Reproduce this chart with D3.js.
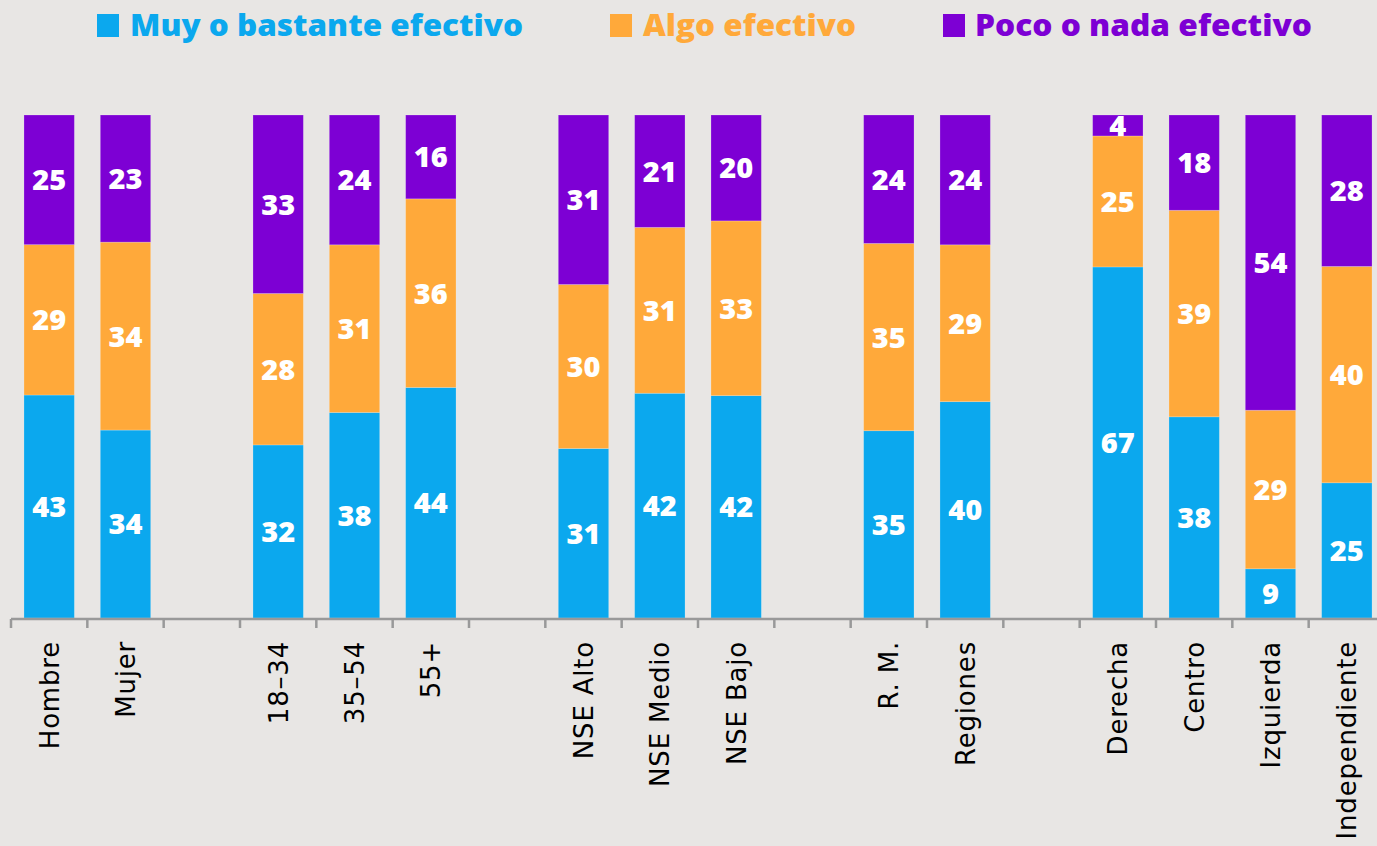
<!DOCTYPE html>
<html><head><meta charset="utf-8">
<script src="https://cdn.jsdelivr.net/npm/d3@7/dist/d3.min.js"></script>
<style>
html,body{margin:0;padding:0;background:#E8E6E4;overflow:hidden;}
svg{display:block;}
</style></head>
<body>
<svg id="c" width="1377" height="846"></svg>
<script>
const categories = ["Hombre","Mujer","","18–34","35–54","55+","","NSE Alto","NSE Medio","NSE Bajo","","R. M.","Regiones","","Derecha","Centro","Izquierda","Independiente"];
const muy   = [43,34,null,32,38,44,null,31,42,42,null,35,40,null,67,38,9,25];
const algo  = [29,34,null,28,31,36,null,30,31,33,null,35,29,null,25,39,29,40];
const poco  = [25,23,null,33,24,16,null,31,21,20,null,24,24,null,4,18,54,28];
const seriesNames = ["Muy o bastante efectivo","Algo efectivo","Poco o nada efectivo"];
const colors = ["#0BA8EE","#FFA93A","#7D00D4"];

(function(){
const svg = d3.select("#c");
const plotTop = 115, base = 618;
const idx = categories.map((d,i)=>i);
const x = d3.scaleBand().domain(idx).range([11,1385]).paddingInner(0.34).paddingOuter(0.17);
const y = d3.scaleLinear().domain([0,100]).range([base, plotTop]);

const rows = idx.filter(i=>muy[i]!=null).map(i=>({i, v:[muy[i],algo[i],poco[i]]}));
const font = "'Open Sans', 'DejaVu Sans', sans-serif";

rows.forEach(r=>{
  const tot = r.v[0]+r.v[1]+r.v[2];
  let acc = 0;
  r.v.forEach((v,k)=>{
    const p0 = acc/tot*100, p1 = (acc+v)/tot*100;
    acc += v;
    svg.append("rect")
      .attr("x", x(r.i)).attr("width", x.bandwidth())
      .attr("y", y(p1)).attr("height", y(p0)-y(p1))
      .attr("fill", colors[k])
      .attr("stroke","rgba(255,255,255,0.25)").attr("stroke-width",0.8);
    svg.append("text")
      .attr("x", x(r.i)+x.bandwidth()/2)
      .attr("y", (y(p0)+y(p1))/2)
      .attr("dy","0.36em")
      .attr("text-anchor","middle")
      .attr("fill","#fff")
      .style("font-family",font).style("font-weight","800").style("font-size","29px")
      .text(v);
  });
});

const ax = svg.append("g").attr("transform",`translate(0,${base+1})`)
  .call(d3.axisBottom(x).tickSize(0).tickFormat(i=>categories[i]));
ax.select(".domain").attr("stroke","#999").attr("stroke-width",2.5).attr("d",`M11,0H1377`);
ax.selectAll(".tick text")
  .attr("transform","rotate(-90)")
  .attr("text-anchor","end")
  .attr("x",-22).attr("y",0).attr("dy","0.36em")
  .attr("fill","#000")
  .style("font-family","'DejaVu Sans', sans-serif").style("font-size","26px")
  .style("letter-spacing","0.8px");
const step = x.step(), pad = x.paddingInner()*step/2;
svg.append("g").selectAll("line").data(idx).join("line")
  .attr("x1",i=>x(i)-pad).attr("x2",i=>x(i)-pad)
  .attr("y1",base+1).attr("y2",base+10)
  .attr("stroke","#999").attr("stroke-width",2.5);

const legend = [
  {sx:97, tx:130, tw:393},
  {sx:610, tx:643, tw:213},
  {sx:943, tx:975, tw:337}
];
legend.forEach((l,k)=>{
  svg.append("rect").attr("x",l.sx).attr("y",14).attr("width",22).attr("height",23).attr("fill",colors[k]);
  svg.append("text").attr("x",l.tx).attr("y",36)
    .attr("fill",colors[k])
    .attr("textLength",l.tw).attr("lengthAdjust","spacingAndGlyphs")
    .style("font-family",font).style("font-weight","800").style("font-size","30px")
    .text(seriesNames[k]);
});
})();
</script>
</body></html>
